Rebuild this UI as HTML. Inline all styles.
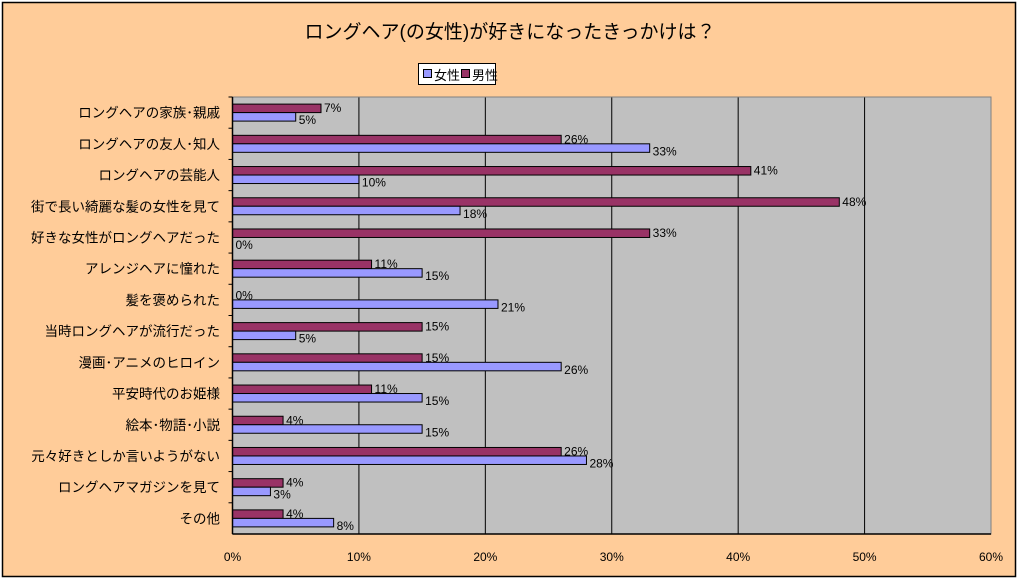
<!DOCTYPE html>
<html><head><meta charset="utf-8"><style>
body{margin:0;background:#fff;}
svg text{font-family:"Liberation Sans","Noto Sans CJK JP",sans-serif;}
</style></head><body>
<svg id="c" width="1020" height="581" xmlns="http://www.w3.org/2000/svg">
<rect x="2.5" y="2.5" width="1013" height="574" fill="#ffcc99" stroke="#000" stroke-width="1.5"/>
<text x="510" y="38" font-size="19" text-anchor="middle" fill="#000">ロングヘア(の女性)が好きになったきっかけは？</text>
<g>
<rect x="418.5" y="63.5" width="77" height="21" fill="#fff" stroke="#000"/>
<rect x="423.5" y="69.5" width="8" height="8" fill="#9999ff" stroke="#000"/>
<text x="434" y="80" font-size="13" textLength="26" lengthAdjust="spacingAndGlyphs">女性</text>
<rect x="461.5" y="69.5" width="8" height="8" fill="#993366" stroke="#000"/>
<text x="472" y="80" font-size="13" textLength="26" lengthAdjust="spacingAndGlyphs">男性</text>
</g>
<g id="plot"></g>
</svg>
<script>
const categories=["ロングヘアの家族･親戚","ロングヘアの友人･知人","ロングヘアの芸能人","街で長い綺麗な髪の女性を見て","好きな女性がロングヘアだった","アレンジヘアに憧れた","髪を褒められた","当時ロングヘアが流行だった","漫画･アニメのヒロイン","平安時代のお姫様","絵本･物語･小説","元々好きとしか言いようがない","ロングヘアマガジンを見て","その他"];
const maleValues=[7,26,41,48,33,11,0,15,15,11,4,26,4,4];
const femaleValues=[5,33,10,18,0,15,21,5,26,15,15,28,3,8];
const ticks=[0,10,20,30,40,50,60];
const tickLabels=["0%","10%","20%","30%","40%","50%","60%"];
const NS="http://www.w3.org/2000/svg";
const L=232.5,R=991,T=97,B=534;
const xs=v=>L+(v/60)*(R-L);
const band=(B-T)/categories.length;
const g=document.getElementById('plot');
function mk(tag,attrs,parent){const e=document.createElementNS(NS,tag);for(const k in attrs)e.setAttribute(k,attrs[k]);(parent||g).appendChild(e);return e;}
const bg=mk('rect',{x:L,y:T,width:R-L,height:B-T,fill:'#c0c0c0'});


ticks.forEach((t,i)=>{
  if(i>0){const gl=mk('line',{x1:xs(t),x2:xs(t),y1:T,y2:B,stroke:'#000','stroke-width':1});
  
  }
  const tl=mk('text',{x:xs(t),y:561,'font-size':12,'text-anchor':'middle'});
  tl.textContent=tickLabels[i];
  
  
});
const border=mk('rect',{x:L,y:T,width:R-L,height:B-T,fill:'none',stroke:'#808080'});


const bh=8.5;
categories.forEach((c,i)=>{
  const y0=T+i*band, mid=y0+band/2;
  const tk=mk('line',{x1:L-4,x2:L,y1:y0,y2:y0,stroke:'#000'});
  
  
  const lab=mk('text',{x:220,y:mid+5,'font-size':13.5,'text-anchor':'end'});
  lab.textContent=c;
  
  
  const m=maleValues[i], f=femaleValues[i];
  const mb=mk('rect',{x:L,y:mid-bh,width:Math.max(0,xs(m)-L),height:bh,fill:'#993366',stroke:'#000','stroke-width':1});
  
  
  const fb=mk('rect',{x:L,y:mid,width:Math.max(0,xs(f)-L),height:bh,fill:'#9999ff',stroke:'#000','stroke-width':1});
  
  
  const mt=mk('text',{x:xs(m)+3,y:mid-0.5,'font-size':12});
  mt.textContent=m+'%';
  
  
  const ft=mk('text',{x:xs(f)+3,y:mid+bh+3,'font-size':12});
  ft.textContent=f+'%';
  
  
});
const ax=mk('line',{x1:L,x2:L,y1:T,y2:B,stroke:'#000','stroke-width':1.5});


const bx=mk('line',{x1:L,x2:R,y1:B,y2:B,stroke:'#000','stroke-width':1.5});


</script>
</body></html>
